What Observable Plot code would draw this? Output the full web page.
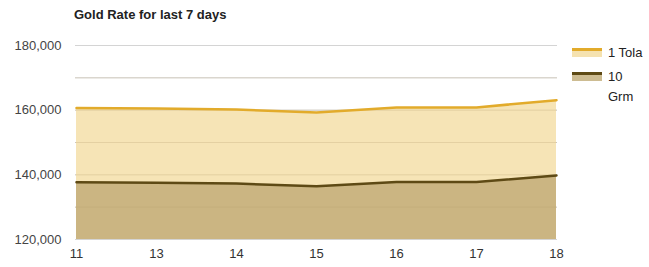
<!DOCTYPE html>
<html><head><meta charset="utf-8">
<script src="https://cdn.jsdelivr.net/npm/d3@7"></script>
<script src="https://cdn.jsdelivr.net/npm/@observablehq/plot@0.6"></script>
<style>
body{margin:0;background:#fff;font-family:Arial,"Liberation Sans",sans-serif;}
#wrap{position:relative;width:649px;height:267px;}
#title{position:absolute;left:74px;top:7px;font-weight:bold;font-size:13px;color:#222;}
#chart{position:absolute;left:0;top:35px;}
#legend{position:absolute;left:572px;top:43px;font-size:13px;line-height:20px;color:#222;}
.item{display:flex;align-items:flex-start;margin-bottom:4px;}
.sw{width:30px;height:10px;margin-right:6px;margin-top:5px;position:relative;}
.sw .ln{position:absolute;left:0;top:0;width:30px;height:3px;}
.sw .ar{position:absolute;left:0;top:3px;width:30px;height:6px;}
</style></head>
<body><div id="wrap">
<div id="title">Gold Rate for last 7 days</div>
<div id="chart"></div>
<div id="legend">
 <div class="item"><div class="sw"><div class="ln" style="background:#e2ab2b"></div><div class="ar" style="background:#f5e2b0"></div></div><div>1 Tola</div></div>
 <div class="item"><div class="sw"><div class="ln" style="background:#5e4a15"></div><div class="ar" style="background:#cdbc92"></div></div><div>10<br>Grm</div></div>
</div>
</div>
<script>
const days = ["11","13","14","15","16","17","18"];
const tola = [160700,160500,160200,159300,160850,160850,163100];
const grm10 = [137700,137550,137300,136500,137800,137800,139800];
const yTicks = [120000,140000,160000,180000];
const yGrid = [130000,150000,170000];

const tolaData = days.map((d,i)=>({day:d,v:tola[i]}));
const grmData = days.map((d,i)=>({day:d,v:grm10[i]}));

const chart = Plot.plot({
  width:649, height:232,
  marginLeft:75, marginRight:92, marginTop:10, marginBottom:28,
  style:{fontFamily:"Arial, 'Liberation Sans', sans-serif", fontSize:"13px", color:"#444"},
  x:{type:"point", domain:days, padding:0, label:null, tickSize:0, tickPadding:9},
  y:{domain:[120000,180000], ticks:yTicks, tickFormat:d3.format(","), label:null, tickSize:0, tickPadding:14},
  marks:[
    Plot.gridY(yTicks.concat(yGrid), {stroke:"#d4d4d4", strokeOpacity:1}),
    Plot.areaY(tolaData,{x:"day", y1:120000, y2:"v", fill:"#f5e2b0", fillOpacity:0.92}),
    Plot.areaY(grmData,{x:"day", y1:120000, y2:"v", fill:"#c8b27f", fillOpacity:0.95}),
    Plot.gridY(yGrid.concat([140000,160000]), {stroke:"#b8a070", strokeOpacity:0.25}),
    Plot.lineY(tolaData,{x:"day", y:"v", stroke:"#e2ab2b", strokeWidth:2.5}),
    Plot.lineY(grmData,{x:"day", y:"v", stroke:"#5e4a15", strokeWidth:2.5})
  ]
});
chart.querySelectorAll("[aria-label='x-axis tick label'] text").forEach(t=>t.style.fill="#333");
document.getElementById("chart").appendChild(chart);
</script>
</body></html>
